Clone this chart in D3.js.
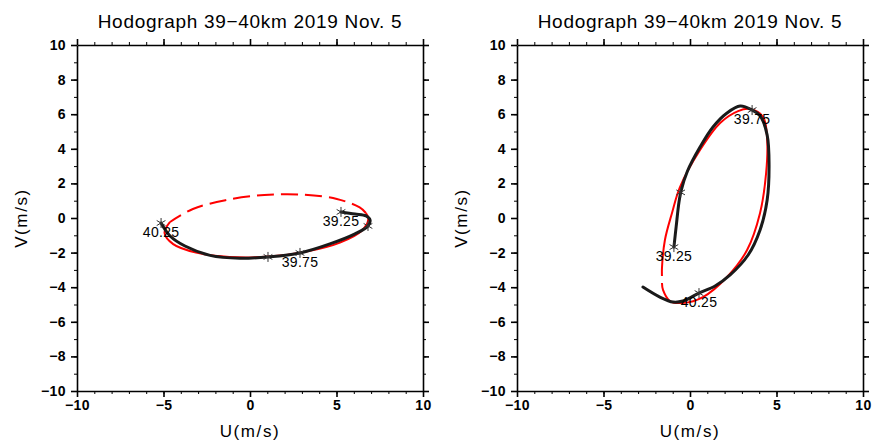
<!DOCTYPE html>
<meta charset="utf-8">
<style>
    body { margin: 0; background: #fff; }
    text { font-family: "Liberation Sans", Arial, sans-serif; fill: #000; }
</style>
<body>
    <div id="chart"></div>
</body>
<script src="https://cdn.jsdelivr.net/npm/d3@7"></script>
<script>
    var svg_width = 875,
        svg_height = 441;

    var title = "Hodograph 39\u221240km 2019 Nov. 5";
    var xTicks = [-10, -5, 0, 5, 10];
    var yTicks = [-10, -8, -6, -4, -2, 0, 2, 4, 6, 8, 10];

    // left panel: observed wind (u, v) and fitted ellipse
    var leftObs = [[5.26, 0.35], [6.07, 0.23], [6.71, 0.12], [6.94, -0.12], [6.82, -0.46], [6.07, -0.92],
        [4.62, -1.50], [2.89, -2.02], [1.04, -2.25], [-0.58, -2.33], [-2.31, -2.16], [-3.76, -1.62],
        [-4.62, -1.04], [-5.14, -0.29]];
    var leftFitSolid = [[-4.62, -0.23], [-4.94, -0.86], [-4.44, -1.51], [-3.12, -2.00], [-1.19, -2.25],
        [1.07, -2.23], [3.32, -1.93], [5.20, -1.42], [6.44, -0.75], [6.84, -0.04], [6.70, 0.29]];
    var leftFitDashed = [[6.70, 0.29], [6.34, 0.61], [5.02, 1.10], [3.09, 1.35], [0.83, 1.33],
        [-1.42, 1.03], [-3.30, 0.52], [-4.62, -0.23]];
    var leftMarks = [[5.26, 0.35, "39.25"], [6.82, -0.46, ""], [2.89, -2.02, "39.75"],
        [1.04, -2.25, ""], [-5.14, -0.29, "40.25"]];

    // right panel
    var rightObs = [[-0.93, -1.68], [-0.80, -0.50], [-0.64, 0.90], [-0.52, 1.55], [-0.15, 2.70],
        [0.58, 4.10], [1.33, 5.26], [2.14, 6.07], [2.90, 6.47], [3.59, 6.24], [4.05, 5.90],
        [4.46, 4.80], [4.57, 3.06], [4.46, 1.04], [4.05, -0.69], [3.36, -2.14], [2.32, -3.29],
        [1.45, -3.93], [0.52, -4.34], [-0.41, -4.80], [-0.98, -4.86], [-1.74, -4.57], [-2.72, -3.99]];
    var rightFitSolid = [[-1.62, -3.76], [-1.56, -4.16], [-1.16, -4.80], [-0.41, -4.91], [0.75, -4.57],
        [2.14, -3.41], [3.30, -1.85], [4.05, 0.29], [4.40, 2.60], [4.46, 4.51], [4.23, 5.84],
        [3.47, 6.30], [2.78, 6.18], [1.74, 5.49], [0.58, 3.93], [-0.58, 1.79], [-1.04, 0.29],
        [-1.45, -1.27], [-1.62, -2.89], [-1.62, -3.35]];
    var rightFitDashed = [];
    var rightMarks = [[-0.93, -1.68, "39.25"], [-0.54, 1.48, ""], [3.59, 6.24, "39.75"],
        [0.52, -4.34, "40.25"]];

    var svg = d3.select("#chart").append("svg")
        .attr("width", svg_width)
        .attr("height", svg_height);

    function fmt(d) { return d < 0 ? "\u2212" + Math.abs(d) : "" + d; }

    function drawPanel(left, obs, fitSolid, fitDashed, marks) {
        var x = d3.scaleLinear().domain([-10, 10]).range([left, left + 346]);
        var y = d3.scaleLinear().domain([-10, 10]).range([391, 45]);
        var g = svg.append("g");

        var line = d3.line()
            .x(function(d) { return x(d[0]); })
            .y(function(d) { return y(d[1]); })
            .curve(d3.curveCatmullRom);

        // frame + ticks (ticks point outward), labels only bottom/left
        var minor = d3.range(-10, 11, 1);
        var axes = [
            [d3.axisBottom, x, xTicks, "translate(0,391)", true],
            [d3.axisTop, x, xTicks, "translate(0,45)", false],
            [d3.axisLeft, y, yTicks, "translate(" + left + ",0)", true],
            [d3.axisRight, y, yTicks, "translate(" + (left + 346) + ",0)", false]
        ];
        axes.forEach(function(a, i) {
            g.append("g").attr("transform", a[3])
                .call(a[0](a[1]).tickValues(minor).tickSize(3).tickFormat("").tickSizeOuter(0))
                .call(function(s) { s.select(".domain").remove(); s.selectAll("text").remove(); })
                .selectAll("line").attr("stroke", "#000").attr("stroke-width", 1);
            var ax = g.append("g").attr("transform", a[3])
                .call(a[0](a[1]).tickValues(a[2]).tickSize(6).tickSizeOuter(0)
                    .tickPadding(i == 0 ? 3 : 5).tickFormat(a[4] ? fmt : ""));
            ax.select(".domain").attr("stroke", "#000").attr("stroke-width", 1.6);
            ax.selectAll(".tick line").attr("stroke", "#000").attr("stroke-width", 1.6);
            if (!a[4]) ax.selectAll("text").remove();
            ax.selectAll("text")
                .style("font-family", "'Liberation Sans', Arial, sans-serif")
                .style("font-size", "14px")
                .style("font-weight", "bold")
                .style("letter-spacing", "0.4px")
                .attr("fill", "#000");
        });

        // fitted ellipse
        g.append("path").datum(fitSolid)
            .attr("d", line).attr("fill", "none")
            .attr("stroke", "#ff0000").attr("stroke-width", 2);
        if (fitDashed.length) {
            g.append("path").datum(fitDashed)
                .attr("d", line).attr("fill", "none")
                .attr("stroke", "#ff0000").attr("stroke-width", 2)
                .attr("stroke-dasharray", "17,7");
        }

        // observed hodograph
        g.append("path").datum(obs)
            .attr("d", line).attr("fill", "none")
            .attr("stroke", "#1a1a1a").attr("stroke-width", 3)
            .attr("stroke-linecap", "round");

        // asterisk markers with height labels
        var r = 5;
        var star = "M0," + (-r) + "L0," + r +
            "M" + (-r * 0.87) + "," + (-r * 0.5) + "L" + (r * 0.87) + "," + (r * 0.5) +
            "M" + (-r * 0.87) + "," + (r * 0.5) + "L" + (r * 0.87) + "," + (-r * 0.5);
        var mk = g.selectAll("g.mark").data(marks).enter()
            .append("g").attr("class", "mark")
            .attr("transform", function(d) { return "translate(" + x(d[0]) + "," + y(d[1]) + ")"; });
        mk.append("path").attr("d", star).attr("stroke", "#333").attr("stroke-width", 1).attr("fill", "none");
        mk.append("text")
            .attr("y", 14)
            .attr("text-anchor", "middle")
            .style("font-size", "14px")
            .style("letter-spacing", "0.3px")
            .text(function(d) { return d[2]; });

        // titles
        g.append("text")
            .attr("x", left + 173).attr("y", 28)
            .attr("text-anchor", "middle")
            .style("font-size", "19px")
            .style("letter-spacing", "0.7px")
            .text(title);
        g.append("text")
            .attr("x", left + 173).attr("y", 437)
            .attr("text-anchor", "middle")
            .style("font-size", "17px")
            .style("letter-spacing", "1.6px")
            .text("U(m/s)");
        g.append("text")
            .attr("transform", "translate(" + (left - 50) + ",218) rotate(-90)")
            .attr("text-anchor", "middle")
            .style("font-size", "17px")
            .style("letter-spacing", "1.6px")
            .text("V(m/s)");
    }

    drawPanel(77, leftObs, leftFitSolid, leftFitDashed, leftMarks);
    drawPanel(517, rightObs, rightFitSolid, rightFitDashed, rightMarks);
</script>
